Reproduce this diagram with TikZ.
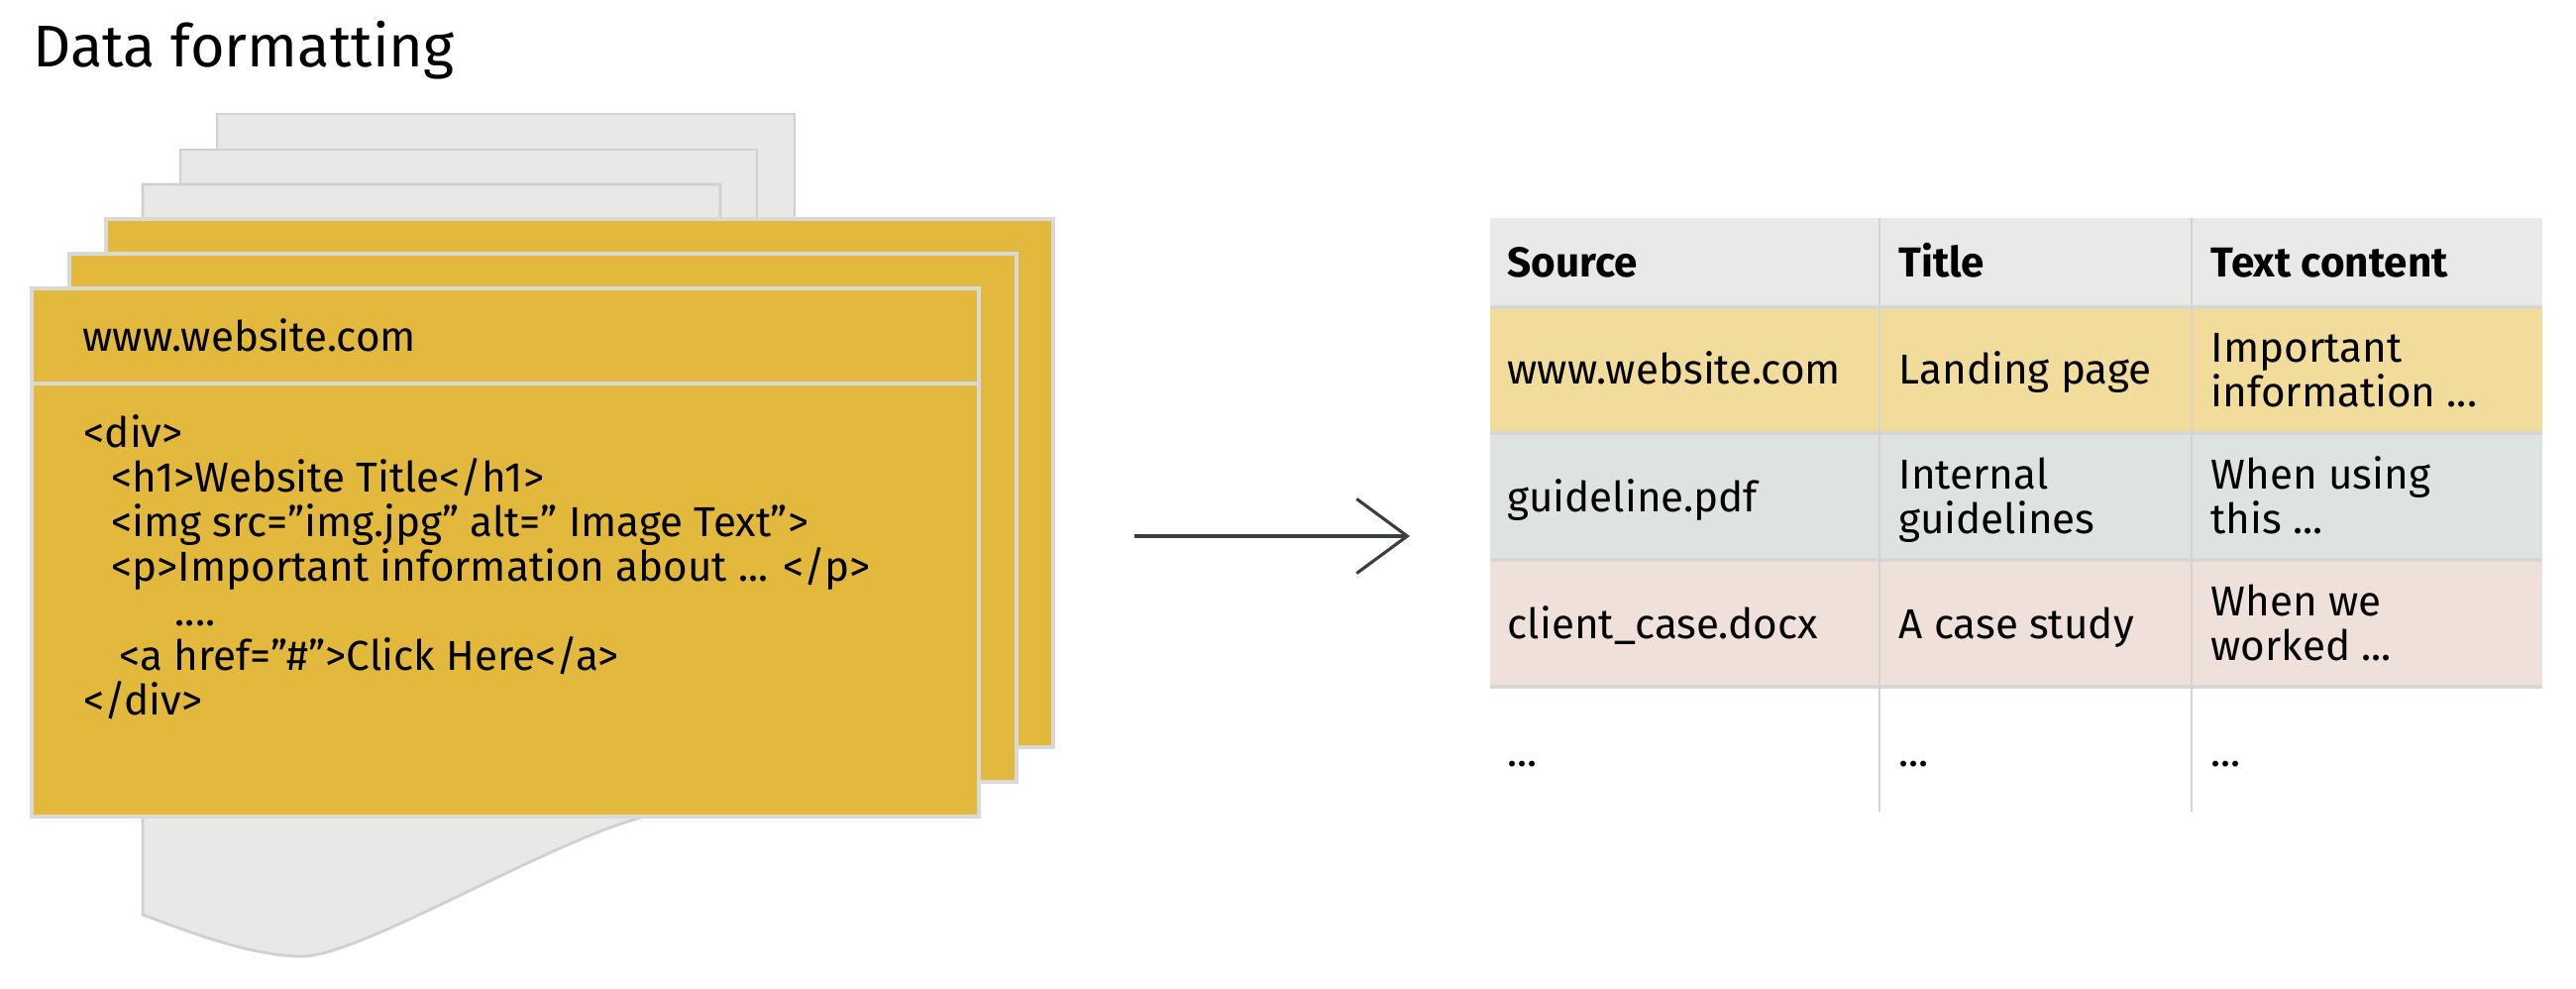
\documentclass[tikz,border=0pt]{standalone}
\usepackage{fontspec}
\setmainfont{Fira Sans}
\usetikzlibrary{positioning,arrows.meta}
\definecolor{cardyellow}{HTML}{E2B83D}
\definecolor{cardedge}{HTML}{D9D9D7}
\definecolor{pagegray}{HTML}{E8E8E6}
\definecolor{pageedge}{HTML}{D0D0CE}
\definecolor{headgray}{HTML}{E9E9E7}
\definecolor{rowyellow}{HTML}{F2DC9C}
\definecolor{rowgreen}{HTML}{DEE3E1}
\definecolor{rowpink}{HTML}{F0E0DA}
\definecolor{rowedge}{HTML}{D6D6D4}
\definecolor{coledge}{HTML}{D3D3D1}
\definecolor{arrowgray}{HTML}{3A3F42}
\tikzset{>={Straight Barb[length=5.1mm,width=7.5mm]}}

\begin{document}
\begin{tikzpicture}[x=0.01cm,y=-0.01cm]
      \tikzstyle{page}=[fill=pagegray,draw=pageedge,line width=0.8pt]
      \tikzstyle{card}=[fill=cardyellow,draw=cardedge,line width=0.9pt]
      \tikzstyle{txt}=[anchor=base west,inner sep=0pt,align=left,
                       font=\fontsize{12}{12.8}\selectfont]
      \tikzstyle{head}=[txt,font=\fontsize{12}{12.8}\selectfont\bfseries]
      \tikzstyle{rowline}=[draw=rowedge,line width=1.1pt]
      \tikzstyle{colline}=[draw=coledge,line width=0.7pt]

      \useasboundingbox (0,0) rectangle (2600,998);

      \node[anchor=base west,inner sep=0pt,font=\fontsize{16.9}{20}\selectfont]
            (title) at (33,68) {Data formatting};

      % pages in the back
      \draw[page] (219,115) rectangle (802,800);
      \draw[page] (182,151) rectangle (764,800);
      \draw[page] (144,186) -- (727,186) -- (727,810) -- (655,823)
            .. controls (560,845) and (365,965) .. (305,965)
            .. controls (255,965) and (195,942) .. (144,923) -- cycle;

      % yellow cards
      \draw[card] (107,221) rectangle (1063,754);
      \draw[card] (70,256) rectangle (1026,789);
      \draw[card] (32,291) rectangle (988,824);
      \draw[cardedge,line width=0.9pt] (32,387) -- (988,387);

      % multi-line nodes sit on the baseline of their last line
      \node[txt] (url)  at (83,355) {www.website.com};
      \node[txt] (code) at (84,722) {<div>\\
            \hspace*{0.28cm}<h1>Website Title</h1>\\
            \hspace*{0.28cm}<img src=”img.jpg” alt=” Image Text”>\\
            \hspace*{0.28cm}<p>Important information about ... </p>\\
            \hspace*{0.92cm}....\\
            \hspace*{0.36cm}<a href=”\#”>Click Here</a>\\
            </div>};

      % table
      \fill[headgray]  (1504,220) rectangle (2566,310);
      \fill[rowyellow] (1504,310) rectangle (2566,437);
      \fill[rowgreen]  (1504,437) rectangle (2566,565);
      \fill[rowpink]   (1504,565) rectangle (2566,693);
      \foreach \y in {310,437,565,693}
            \draw[rowline] (1504,\y) -- (2566,\y);
      \foreach \x in {1897,2212}
            \draw[colline] (\x,220) -- (\x,819);

      \node[head] (hsrc) at (1521,280) {Source};
      \node[head] (httl) at (1916,280) {Title};
      \node[head] (htxt) at (2231,280) {Text content};
      \node[txt]  (src1) at (1521,388) {www.website.com};
      \node[txt]  (ttl1) at (1916,388) {Landing page};
      \node[txt]  (txt1) at (2231,411) {Important\\information ...};
      \node[txt]  (src2) at (1521,517) {guideline.pdf};
      \node[txt]  (ttl2) at (1916,539) {Internal\\guidelines};
      \node[txt]  (txt2) at (2231,539) {When using\\this ...};
      \node[txt]  (src3) at (1521,645) {client\_case.docx};
      \node[txt]  (ttl3) at (1916,645) {A case study};
      \node[txt]  (txt3) at (2231,667) {When we\\worked ...};
      \node[txt]  (src4) at (1521,774) {...};
      \node[txt]  (ttl4) at (1916,774) {...};
      \node[txt]  (txt4) at (2231,774) {...};

      % arrow
      \coordinate (tail) at (1145,541);
      \coordinate (tip)  at (1423,541);
      \draw[->,draw=arrowgray,line width=0.9pt] (tail) -- (tip);
\end{tikzpicture}
\end{document}
